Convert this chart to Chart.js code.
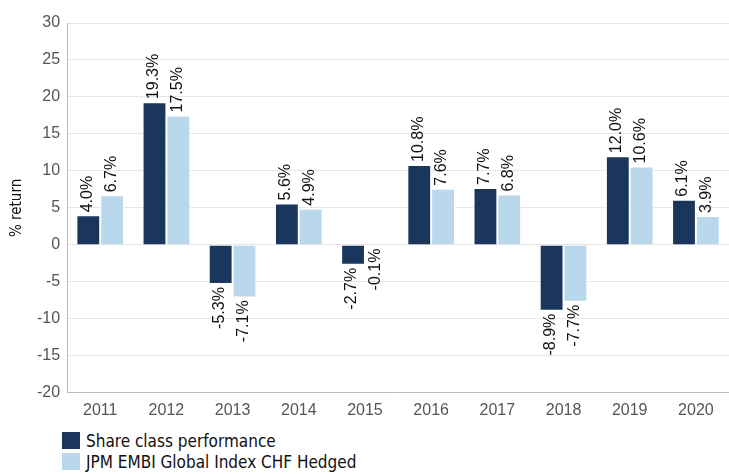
<!DOCTYPE html>
<html>
<head>
<meta charset="utf-8">
<script src="https://cdn.jsdelivr.net/npm/chart.js@4/dist/chart.umd.min.js"></script>
<style>
  body { margin: 0; background: #fff; }
  #wrap { position: relative; width: 729px; height: 474px; }
  #legend { position: absolute; left: 62px; top: 430px; font-family: "DejaVu Sans Condensed", sans-serif; font-size: 17px; color: #111; }
  .item { display: flex; align-items: center; height: 21px; }
  .box { width: 18px; height: 17px; margin-right: 6px; }
</style>
</head>
<body>
<div id="wrap">
  <canvas id="chart" width="729" height="428"></canvas>
  <div id="legend"></div>
</div>
<script>
const years = ["2011", "2012", "2013", "2014", "2015", "2016", "2017", "2018", "2019", "2020"];
const shareClass = [4.0, 19.3, -5.3, 5.6, -2.7, 10.8, 7.7, -8.9, 12.0, 6.1];
const jpmIndex = [6.7, 17.5, -7.1, 4.9, -0.1, 7.6, 6.8, -7.7, 10.6, 3.9];
const seriesNames = ["Share class performance", "JPM EMBI Global Index CHF Hedged"];
const colors = ["#1b365d", "#b9d8eb"];

// labels above / below each bar, rotated
const barLabels = {
  id: "barLabels",
  afterDatasetsDraw(chart) {
    const ctx = chart.ctx;
    ctx.save();
    ctx.font = "16px 'Liberation Sans', Arial, sans-serif";
    ctx.fillStyle = "#111";
    ctx.textBaseline = "middle";
    chart.data.datasets.forEach((ds, i) => {
      chart.getDatasetMeta(i).data.forEach((bar, j) => {
        const v = ds.data[j];
        const txt = v.toFixed(1) + "%";
        ctx.save();
        ctx.translate(bar.x - 1, bar.y + (v >= 0 ? -3 : 3));
        ctx.rotate(-Math.PI / 2);
        ctx.textAlign = v >= 0 ? "left" : "right";
        ctx.fillText(txt, 0, 0);
        ctx.restore();
      });
    });
    ctx.restore();
  }
};

const chart = new Chart(document.getElementById("chart"), {
  type: "bar",
  data: {
    labels: years,
    datasets: [
      { label: seriesNames[0], data: shareClass, backgroundColor: colors[0], borderColor: "#ffffff", borderWidth: 1 },
      { label: seriesNames[1], data: jpmIndex, backgroundColor: colors[1], borderColor: "#ffffff", borderWidth: 1 },
    ],
  },
  options: {
    responsive: false,
    animation: false,
    layout: { padding: { top: 23, right: 0, left: 8, bottom: 0 } },
    plugins: { legend: { display: false }, tooltip: { enabled: false } },
    datasets: { bar: { categoryPercentage: 0.72, barPercentage: 1.0 } },
    scales: {
      x: {
        grid: { display: false, drawTicks: false },
        border: { color: "#bbbbbb", width: 1 },
        ticks: { color: "#555", font: { size: 16, family: "'Liberation Sans', Arial, sans-serif" }, padding: 8 },
      },
      y: {
        min: -20,
        max: 30,
        grid: { color: "#e6e6e6", drawTicks: false },
        border: { color: "#bbbbbb", width: 1 },
        ticks: { stepSize: 5, color: "#555", font: { size: 16, family: "'Liberation Sans', Arial, sans-serif" }, padding: 7 },
        title: { display: true, text: "% return", color: "#111", font: { size: 15, family: "'DejaVu Sans Condensed', sans-serif" }, padding: { top: 0, bottom: 4 } },
      },
    },
  },
  plugins: [barLabels],
});

// stacked legend built from the datasets
const legend = document.getElementById("legend");
chart.data.datasets.forEach(ds => {
  const row = document.createElement("div");
  row.className = "item";
  row.innerHTML = '<span class="box" style="background:' + ds.backgroundColor + '"></span><span>' + ds.label + '</span>';
  legend.appendChild(row);
});
</script>
</body>
</html>
